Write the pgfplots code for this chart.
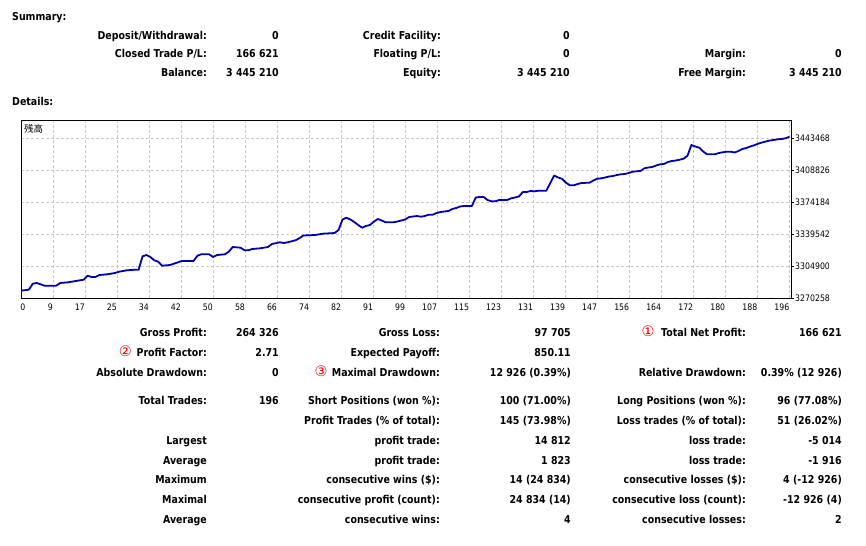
\documentclass[border=0pt]{standalone}
\usepackage{pgfplots}
\pgfplotsset{compat=1.18}
\usepackage{fontspec}
\setmainfont{DejaVu Sans}[FakeStretch=0.87]
\newfontfamily\cjk{Noto Sans CJK JP}
\newfontfamily\sym{DejaVu Sans}
\definecolor{bal}{RGB}{0,0,170}
\definecolor{gridc}{RGB}{200,200,200}
\definecolor{mark}{RGB}{230,0,0}

% right-aligned text at (x, baseline) in pixel units, y downwards
\newcommand{\lab}[3]{\node[anchor=base east,inner sep=0pt] at (#1bp,-#2bp) {#3};}
\newcommand{\circnum}[3]{\node[inner sep=0pt,text=mark,font=\sym\fontsize{14.5}{16}\selectfont] at (#1bp,-#2bp) {#3};}

\pgfplotstableread{
n balance
0 3278589
2 3279568
3 3286063
4 3286821
5 3285414
6 3283898
9 3283898
10 3286821
12 3287579
14 3288986
16 3290394
17 3294724
18 3293317
19 3293317
20 3295482
22 3296239
24 3297647
25 3299054
27 3300570
29 3301219
30 3301219
31 3315726
32 3317133
33 3314968
34 3311395
35 3309880
36 3305549
38 3306307
39 3307715
41 3310638
44 3310638
45 3316375
46 3317891
48 3317891
49 3314968
50 3317133
52 3317891
53 3320705
54 3325793
56 3325035
57 3322221
58 3322221
59 3323628
61 3324386
63 3325793
64 3329041
66 3330881
67 3330124
68 3330881
70 3333047
71 3335212
72 3338243
75 3338784
77 3340191
80 3340949
81 3344197
82 3355564
83 3357512
84 3355564
85 3352857
86 3349610
87 3346687
88 3348527
89 3349610
90 3353182
91 3356105
92 3354481
93 3352533
95 3352533
96 3353399
97 3354481
98 3355564
99 3358270
100 3358812
101 3359353
102 3358595
103 3359353
104 3360760
105 3360760
106 3362600
107 3363683
108 3364224
109 3364766
110 3366931
111 3368013
112 3369637
113 3370178
115 3370178
116 3379380
117 3379922
118 3379922
119 3376674
120 3375266
121 3375266
122 3376674
124 3376674
125 3378514
126 3379380
127 3380463
128 3385335
129 3385335
130 3386417
131 3386092
132 3386742
134 3386742
135 3395077
136 3403197
137 3401031
138 3399624
139 3395402
140 3392588
141 3392588
142 3393995
143 3395077
145 3395402
146 3397784
147 3399732
148 3400165
149 3401031
150 3402114
151 3402655
152 3403738
153 3404496
154 3404820
155 3405903
156 3407310
157 3407743
158 3408068
159 3410991
160 3411857
161 3412396
162 3414020
163 3415321
164 3415646
165 3417811
166 3418894
167 3419435
168 3420301
169 3421384
170 3424631
171 3436215
172 3434591
173 3433292
174 3429178
175 3426147
177 3426147
178 3427554
179 3428312
180 3428962
181 3428962
182 3428096
183 3429719
184 3431884
185 3432967
186 3434591
187 3435890
188 3437622
189 3438921
190 3440004
191 3441086
192 3441627
193 3442385
194 3442710
195 3443468
196 3445210
}\balancedata

\begin{document}
\begin{tikzpicture}[every node/.style={font=\fontsize{10.9}{13}\selectfont\bfseries}]
\useasboundingbox (0,0) rectangle (866bp,-546bp);

% Summary block
\node[anchor=base west,inner sep=0pt] at (12bp,-20bp) {Summary:};
\lab{207}{39}{Deposit/Withdrawal:} \lab{279}{39}{0}
\lab{441}{39}{Credit Facility:} \lab{570}{39}{0}
\lab{207}{57.5}{Closed Trade P/L:} \lab{279}{57.5}{166 621}
\lab{441}{57.5}{Floating P/L:} \lab{570}{57.5}{0}
\lab{746}{57.5}{Margin:} \lab{842}{57.5}{0}
\lab{207}{76}{Balance:} \lab{279}{76}{3 445 210}
\lab{441}{76}{Equity:} \lab{570}{76}{3 445 210}
\lab{746}{76}{Free Margin:} \lab{842}{76}{3 445 210}
\node[anchor=base west,inner sep=0pt] at (12bp,-105bp) {Details:};

\begin{axis}[
    at={(21bp,-120bp)}, anchor=north west,
    scale only axis, width=770bp, height=178.3bp,
    xmin=0, xmax=196.4, ymin=3270258, ymax=3463278,
    axis line style={black, line width=0.8bp},
    xmajorgrids, ymajorgrids,
    grid style={gridc, line width=0.8bp, dash pattern=on 3bp off 2bp},
    xtick={0,8.1667,16.3333,24.5,32.6667,40.8333,49,57.1667,65.3333,73.5,81.6667,89.8333,98,106.1667,114.3333,122.5,130.6667,138.8333,147,155.1667,163.3333,171.5,179.6667,187.8333,196},
    xticklabels={\hbox to 0pt{0\hss},9,17,25,34,42,50,58,66,74,82,91,99,107,115,123,131,139,147,156,164,172,180,188,196},
    ytick={3270258,3304900,3339542,3374184,3408826,3443468},
    yticklabels={3270258,3304900,3339542,3374184,3408826,3443468},
    scaled y ticks=false,
    ytick pos=right, yticklabel pos=right,
    tick align=outside, major tick length=3bp,
    xtick style={draw=none},
    ytick style={black, line width=0.8bp},
    ticklabel style={font=\fontsize{9}{10}\selectfont, inner sep=0pt},
    xticklabel style={anchor=north east, yshift=-2bp},
    yticklabel style={anchor=west, xshift=1bp},
]
\addplot[bal, line width=1.8bp, line join=round] table[x=n, y=balance] {\balancedata};
\end{axis}
\node[anchor=west,inner sep=0pt,font=\cjk\fontsize{9.5}{11}\selectfont] at (24bp,-129bp) {残高};

% Details block
\circnum{648}{331.7}{①}
\lab{207}{336}{Gross Profit:} \lab{279}{336}{264 326}
\lab{440}{336}{Gross Loss:} \lab{571}{336}{97 705}
\lab{746}{336}{Total Net Profit:} \lab{842}{336}{166 621}

\circnum{125.3}{351.7}{②}
\lab{207}{356}{Profit Factor:} \lab{279}{356}{2.71}
\lab{440}{356}{Expected Payoff:} \lab{571}{356}{850.11}

\circnum{321}{371.7}{③}
\lab{207}{376}{Absolute Drawdown:} \lab{279}{376}{0}
\lab{440}{376}{Maximal Drawdown:} \lab{571}{376}{12 926 (0.39\%)}
\lab{746}{376}{Relative Drawdown:} \lab{842}{376}{0.39\% (12 926)}

\lab{207}{404}{Total Trades:} \lab{279}{404}{196}
\lab{440}{404}{Short Positions (won \%):} \lab{571}{404}{100 (71.00\%)}
\lab{746}{404}{Long Positions (won \%):} \lab{842}{404}{96 (77.08\%)}

\lab{440}{424}{Profit Trades (\% of total):} \lab{571}{424}{145 (73.98\%)}
\lab{746}{424}{Loss trades (\% of total):} \lab{842}{424}{51 (26.02\%)}

\lab{207}{444}{Largest}
\lab{440}{444}{profit trade:} \lab{571}{444}{14 812}
\lab{746}{444}{loss trade:} \lab{842}{444}{-5 014}

\lab{207}{464}{Average}
\lab{440}{464}{profit trade:} \lab{571}{464}{1 823}
\lab{746}{464}{loss trade:} \lab{842}{464}{-1 916}

\lab{207}{483}{Maximum}
\lab{440}{483}{consecutive wins (\$):} \lab{571}{483}{14 (24 834)}
\lab{746}{483}{consecutive losses (\$):} \lab{842}{483}{4 (-12 926)}

\lab{207}{503}{Maximal}
\lab{440}{503}{consecutive profit (count):} \lab{571}{503}{24 834 (14)}
\lab{746}{503}{consecutive loss (count):} \lab{842}{503}{-12 926 (4)}

\lab{207}{523}{Average}
\lab{440}{523}{consecutive wins:} \lab{571}{523}{4}
\lab{746}{523}{consecutive losses:} \lab{842}{523}{2}
\end{tikzpicture}
\end{document}
